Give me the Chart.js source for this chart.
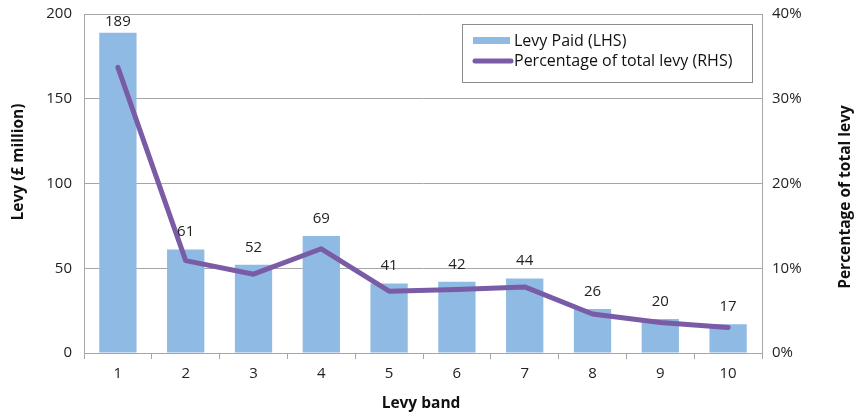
<!DOCTYPE html>
<html>
<head>
<meta charset="utf-8">
<script src="https://cdn.jsdelivr.net/npm/chart.js@4"></script>
<style>
  html, body { margin: 0; padding: 0; background: #fff; }
  #wrap { width: 858px; height: 419px; }
</style>
</head>
<body>
<div id="wrap"><canvas id="levyChart" width="858" height="419"></canvas></div>
<script>
const bands = ['1', '2', '3', '4', '5', '6', '7', '8', '9', '10'];
const levyPaid = [189, 61, 52, 69, 41, 42, 44, 26, 20, 17];
const levyShare = [33.7, 10.9, 9.3, 12.3, 7.3, 7.5, 7.8, 4.6, 3.6, 3.0];
const seriesNames = ['Levy Paid (LHS)', 'Percentage of total levy (RHS)'];
const leftTitle = 'Levy (£ million)';
const rightTitle = 'Percentage of total levy';
const bottomTitle = 'Levy band';

const fontFamily = "'Open Sans', 'Noto Sans', sans-serif";
const barColor = '#8FBAE3';
const lineColor = '#7A5BA6';
const gridColor = '#A6A6A6';

// value labels above the bars
const barLabels = {
    id: 'barLabels',
    afterDraw(chart) {
        const ctx = chart.ctx;
        const meta = chart.getDatasetMeta(1);
        ctx.save();
        ctx.font = '15px ' + fontFamily;
        ctx.fillStyle = '#222';
        ctx.textAlign = 'center';
        ctx.textBaseline = 'bottom';
        meta.data.forEach((bar, i) => {
            const ty = Math.max(bar.y - 10, chart.chartArea.top + 15);
            ctx.fillText(levyPaid[i], bar.x, ty);
        });
        ctx.restore();
    }
};

// axis titles, both side titles read bottom-to-top
const axisTitles = {
    id: 'axisTitles',
    afterDraw(chart) {
        const ctx = chart.ctx;
        ctx.save();
        ctx.font = 'bold 15.5px ' + fontFamily;
        ctx.fillStyle = '#111';
        ctx.textAlign = 'center';
        ctx.textBaseline = 'middle';

        ctx.save();
        ctx.translate(19, 162);
        ctx.rotate(-Math.PI / 2);
        ctx.fillText(leftTitle, 0, 0);
        ctx.restore();

        ctx.save();
        ctx.translate(846, 197);
        ctx.rotate(-Math.PI / 2);
        ctx.fillText(rightTitle, 0, 0);
        ctx.restore();

        ctx.fillText(bottomTitle, 421, 404);
        ctx.restore();
    }
};

// boxed legend inside the plot area
const boxLegend = {
    id: 'boxLegend',
    afterDraw(chart) {
        const ctx = chart.ctx;
        const x = 462, y = 24, w = 290, h = 58;
        ctx.save();
        ctx.fillStyle = '#fff';
        ctx.fillRect(x, y, w, h);
        ctx.strokeStyle = '#8C8C8C';
        ctx.lineWidth = 1;
        ctx.strokeRect(x + 0.5, y + 0.5, w, h);

        ctx.fillStyle = barColor;
        ctx.fillRect(x + 11, y + 13, 37, 7);

        ctx.strokeStyle = lineColor;
        ctx.lineWidth = 5;
        ctx.lineCap = 'round';
        ctx.beginPath();
        ctx.moveTo(x + 13, y + 37);
        ctx.lineTo(x + 49, y + 37);
        ctx.stroke();

        ctx.font = '16px ' + fontFamily;
        ctx.fillStyle = '#111';
        ctx.textBaseline = 'middle';
        ctx.fillText(seriesNames[0], x + 52, y + 17);
        ctx.fillText(seriesNames[1], x + 52, y + 37);
        ctx.restore();
    }
};

new Chart(document.getElementById('levyChart'), {
    data: {
        labels: bands,
        datasets: [{
            type: 'line',
            label: seriesNames[1],
            data: levyShare,
            yAxisID: 'y1',
            borderColor: lineColor,
            borderWidth: 5,
            borderCapStyle: 'round',
            borderJoinStyle: 'round',
            pointRadius: 0,
            tension: 0,
            order: 0
        }, {
            type: 'bar',
            label: seriesNames[0],
            data: levyPaid,
            yAxisID: 'y',
            backgroundColor: barColor,
            barPercentage: 0.55,
            categoryPercentage: 1,
            order: 1
        }]
    },
    plugins: [barLabels, axisTitles, boxLegend],
    options: {
        responsive: false,
        animation: false,
        layout: { padding: { top: 14, left: 0, right: 0, bottom: 0 } },
        plugins: {
            legend: { display: false },
            tooltip: { enabled: false }
        },
        scales: {
            x: {
                grid: {
                    offset: true,
                    drawOnChartArea: false,
                    drawTicks: true,
                    tickLength: 6,
                    color: gridColor
                },
                border: { color: gridColor },
                ticks: { color: '#222', font: { family: fontFamily, size: 15 }, padding: 6 },
                afterFit(scale) { scale.height = 66; }
            },
            y: {
                position: 'left',
                min: 0,
                max: 200,
                ticks: { stepSize: 50, color: '#222', font: { family: fontFamily, size: 15 }, padding: 12 },
                grid: { color: gridColor, drawTicks: false },
                border: { color: gridColor },
                afterFit(scale) {
                    scale.width = 84;
                    scale.paddingTop = 0;
                    scale.paddingBottom = 0;
                }
            },
            y1: {
                position: 'right',
                min: 0,
                max: 40,
                ticks: {
                    stepSize: 10,
                    color: '#222',
                    font: { family: fontFamily, size: 15 },
                    padding: 10,
                    callback: v => v + '%'
                },
                grid: { drawOnChartArea: false, drawTicks: false },
                border: { color: gridColor },
                afterFit(scale) {
                    scale.width = 96;
                    scale.paddingTop = 0;
                    scale.paddingBottom = 0;
                }
            }
        }
    }
});
</script>
</body>
</html>
